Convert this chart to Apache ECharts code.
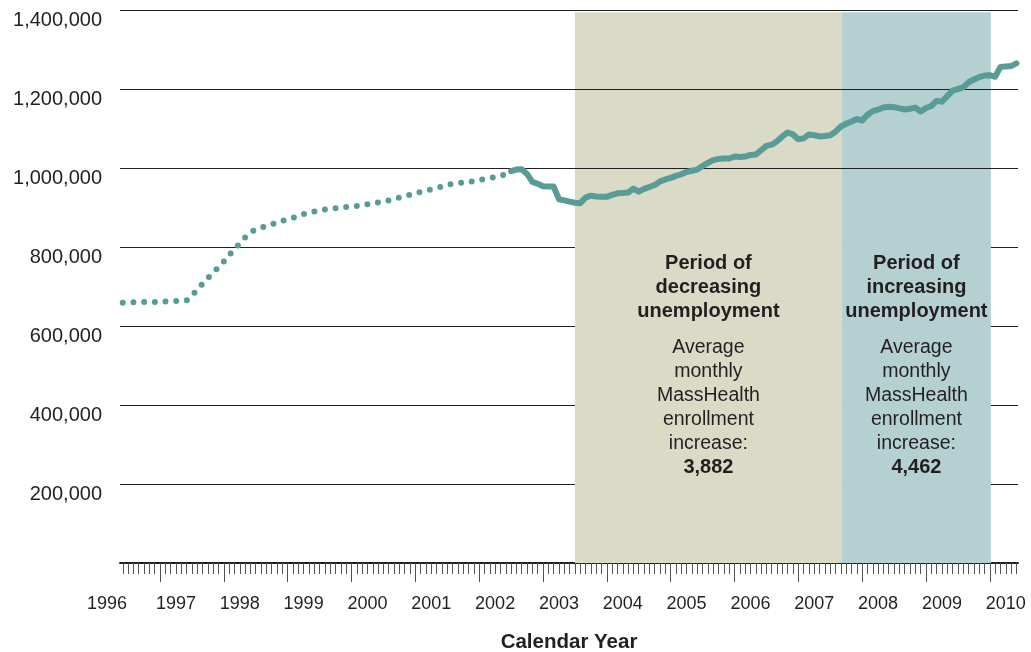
<!DOCTYPE html>
<html>
<head>
<meta charset="utf-8">
<script src="https://cdn.jsdelivr.net/npm/echarts@6/dist/echarts.min.js"></script>
<style>
  html, body { margin: 0; padding: 0; background: #fff; }
  #main { width: 1031px; height: 652px; }
</style>
</head>
<body>
<div id="main"></div>
<script>
// x positions are months counted from Jan 1996 (0 = Jan 1996)
var axisStart = 4.48;
var axisEnd = 173.3;

// enrollment in thousands, one value per month
var dottedStart = 5;
var dottedValues = [
  659, 659, 660, 660, 661, 661, 661, 662, 662, 663, 663, 664, 665, 677, 692,
  707, 721, 735, 749, 763, 779, 795, 809, 824, 836, 845, 849, 853, 857, 862,
  866, 870, 874, 878, 883, 887, 890, 893, 895, 896, 898, 900, 901, 903, 904,
  906, 908, 911, 913, 915, 918, 921, 925, 929, 932, 936, 939, 943, 946, 949,
  953, 957, 960, 962, 963, 965, 967, 970, 972, 975, 977, 980, 985, 992
];
var solidStart = 78;
var solidValues = [
  992, 996, 997, 985, 965, 960, 954, 953, 953, 921, 918, 915, 912, 911, 925,
  930, 928, 927, 927, 932, 936, 937, 938, 948, 940, 947, 952, 957, 966, 971,
  975, 980, 984, 990, 993, 996, 1005, 1013, 1020, 1023, 1024, 1024, 1029, 1028, 1029,
  1033, 1034, 1045, 1056, 1059, 1068, 1080, 1090, 1085, 1073, 1075, 1085, 1083, 1080, 1081,
  1083, 1092, 1105, 1112, 1118, 1124, 1120, 1135, 1144, 1148, 1153, 1155, 1154, 1151, 1148,
  1150, 1153, 1143, 1152, 1157, 1170, 1168, 1182, 1196, 1200, 1204, 1217, 1224, 1230, 1234,
  1235, 1231, 1256, 1257, 1258, 1265
];

var years = [1996, 1997, 1998, 1999, 2000, 2001, 2002, 2003, 2004, 2005, 2006, 2007, 2008, 2009, 2010];

// shaded periods (months) and their notes
var periodStart = [90, 140.2];
var periodEnd = [140.2, 168.2];
var periodColors = ['#d9dbc6', '#b5d0d1'];
var periodTitles = [['Period of', 'decreasing', 'unemployment'], ['Period of', 'increasing', 'unemployment']];
var periodAverages = ['3,882', '4,462'];
var overShadeLines = [1000000, 1200000];

var ink = '#231f20';
var teal = '#589b97';
var font = '"Liberation Sans", Arial, Helvetica, sans-serif';

function toPairs(start, vals) {
  return vals.map(function (v, i) { return [start + i, v * 1000]; });
}

var minorMonths = [];
for (var m = Math.ceil(axisStart); m <= axisEnd; m++) minorMonths.push(m);
var majorMonths = years.slice(1).map(function (y) { return (y - 1996) * 12; });
// year labels sit a little right of their ticks; the first one is squeezed in at the axis start
var labelMonths = [5.8].concat(years.slice(1).map(function (y) { return (y - 1996) * 12 + 3; }));

function fmt(n) {
  return String(n).replace(/\B(?=(\d{3})+(?!\d))/g, ',');
}

function noteText(i) {
  var t = periodTitles[i].map(function (s) { return '{t|' + s + '}'; }).join('\n');
  var body = ['Average', 'monthly', 'MassHealth', 'enrollment', 'increase:']
    .map(function (s) { return '{n|' + s + '}'; }).join('\n');
  return t + '\n{gap| }\n' + body + '\n{t|' + periodAverages[i] + '}';
}

var areas = periodStart.map(function (s, i) {
  return [
    {
      xAxis: s, yAxis: 1394000,
      itemStyle: { color: periodColors[i] },
      label: {
        show: true,
        position: ['50%', 239],
        align: 'center',
        verticalAlign: 'top',
        formatter: noteText(i),
        rich: {
          t: { fontFamily: font, fontWeight: 'bold', fontSize: 20, lineHeight: 24, color: ink, align: 'center' },
          n: { fontFamily: font, fontSize: 19.5, lineHeight: 24, color: ink, align: 'center' },
          gap: { fontSize: 10, lineHeight: 12 }
        }
      }
    },
    { xAxis: periodEnd[i], yAxis: 0 }
  ];
});

var chart = echarts.init(document.getElementById('main'), null, { renderer: 'canvas' });

var option = {
  animation: false,
  backgroundColor: '#fff',
  textStyle: { fontFamily: font },
  grid: { left: 120, right: 13, top: 10, bottom: 89, containLabel: false, outerBoundsMode: 'none' },
  xAxis: [
    {
      type: 'value',
      min: axisStart,
      max: axisEnd,
      position: 'bottom',
      axisLine: { show: true, onZero: false, lineStyle: { color: ink, width: 2 } },
      axisTick: { show: true, customValues: minorMonths, length: 11, lineStyle: { color: '#555', width: 1 } },
      axisLabel: { show: false },
      splitLine: { show: false }
    },
    {
      type: 'value',
      min: axisStart,
      max: axisEnd,
      position: 'bottom',
      axisLine: { show: false, onZero: false },
      axisTick: { show: true, customValues: majorMonths, length: 19, lineStyle: { color: '#555', width: 1 } },
      axisLabel: {
        show: true,
        customValues: labelMonths,
        alignMinLabel: 'right',
        margin: 32,
        fontSize: 18,
        color: ink,
        fontFamily: font,
        formatter: function (v) { return String(1996 + Math.floor(v / 12)); }
      },
      splitLine: { show: false },
      name: 'Calendar Year',
      nameLocation: 'middle',
      nameGap: 69,
      nameTextStyle: { fontFamily: font, fontWeight: 'bold', fontSize: 20.5, color: ink }
    }
  ],
  yAxis: {
    type: 'value',
    min: 0,
    max: 1400000,
    interval: 200000,
    axisLine: { show: false },
    axisTick: { show: false },
    axisLabel: {
      fontSize: 20,
      color: ink,
      fontFamily: font,
      margin: 18,
      verticalAlign: 'top',
      formatter: function (v) { return v === 0 ? '' : fmt(v); }
    },
    splitLine: { show: true, lineStyle: { color: ink, width: 1 } }
  },
  series: [
    {
      name: 'periods',
      type: 'line',
      data: [],
      silent: true,
      markArea: { silent: true, z: 1, data: areas },
      markLine: {
        silent: true,
        z: 5,
        symbol: ['none', 'none'],
        label: { show: false },
        lineStyle: { color: ink, width: 1, type: 'solid' },
        data: overShadeLines.map(function (v) { return { yAxis: v }; })
      }
    },
    {
      name: 'enrollment (dotted)',
      type: 'line',
      z: 10,
      showSymbol: false,
      symbol: 'none',
      smooth: 0.3,
      data: toPairs(dottedStart, dottedValues),
      lineStyle: { color: teal, width: 6, type: [0, 10.7], cap: 'round' }
    },
    {
      name: 'enrollment',
      type: 'line',
      z: 10,
      showSymbol: false,
      symbol: 'none',
      data: toPairs(solidStart, solidValues),
      lineStyle: { color: teal, width: 6, cap: 'round', join: 'round' }
    }
  ]
};

chart.setOption(option);
</script>
</body>
</html>
